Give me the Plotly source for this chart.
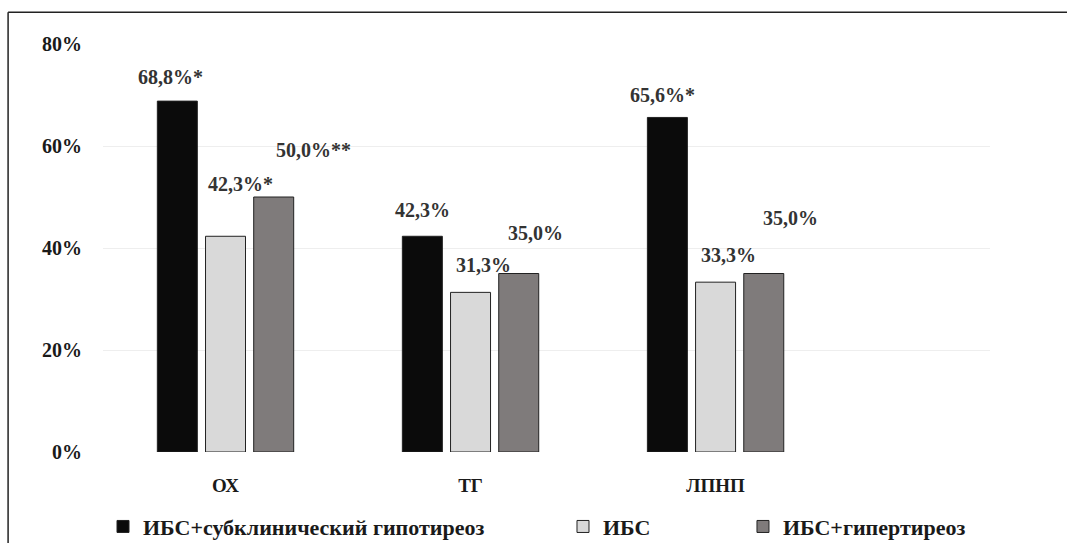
import plotly.graph_objects as go

categories = ["ОХ", "ТГ", "ЛПНП"]
series_names = ["ИБС+субклинический гипотиреоз", "ИБС", "ИБС+гипертиреоз"]
v_hypo = [68.8, 42.3, 65.6]
v_ibs = [42.3, 31.3, 33.3]
v_hyper = [50.0, 35.0, 35.0]
marks_hypo = ["*", "", "*"]
marks_ibs = ["*", "", ""]
marks_hyper = ["**", "", ""]
y_ticks = [0, 20, 40, 60, 80]
y_tick_text = ["0%", "20%", "40%", "60%", "80%"]

series = [v_hypo, v_ibs, v_hyper]
marks = [marks_hypo, marks_ibs, marks_hyper]
colors = ["#0b0b0b", "#d9d9d9", "#7f7b7b"]
legends = ["legend", "legend2", "legend3"]

# label pixel offsets (style)
label_xshift = [[-55, -48, -53], [15, 13, 13], [88, 65, 75]]
label_yshift = [[24, 26, 22], [52, 27, 27], [47, 41, 56]]

FONT = "'Liberation Serif', 'Times New Roman', 'DejaVu Serif', serif"
x_idx = list(range(len(categories)))

fig = go.Figure()
for s in range(3):
    fig.add_trace(go.Bar(
        x=x_idx, y=series[s], name=f"<b>{series_names[s]}</b>",
        marker=dict(color=colors[s], line=dict(color="#222222", width=1)),
        legend=legends[s], hoverinfo="skip", showlegend=True,
    ))

annotations = []
for s in range(3):
    for i, v in enumerate(series[s]):
        txt = f"{v:.1f}".replace(".", ",") + "%" + marks[s][i]
        annotations.append(dict(
            x=x_idx[i], y=v, xref="x", yref="y", text=f"<b>{txt}</b>",
            showarrow=False, xshift=label_xshift[s][i], yshift=label_yshift[s][i],
            font=dict(family=FONT, size=20, color="#333333"),
            xanchor="center", yanchor="middle",
        ))

legend_common = dict(
    orientation="h", yanchor="middle", xanchor="left", y=-0.183,
    font=dict(family=FONT, size=22, color="#1a1a1a"),
    bgcolor="rgba(0,0,0,0)", itemwidth=30, visible=True,
)

fig.update_layout(
    width=1067, height=543,
    margin=dict(l=103, r=77, t=44, b=91, autoexpand=False),
    paper_bgcolor="white", plot_bgcolor="white",
    showlegend=True,
    barmode="group", bargap=0.41, bargroupgap=0.17,
    annotations=annotations,
    legend=dict(x=0.0, **legend_common),
    legend2=dict(x=0.5186, **legend_common),
    legend3=dict(x=0.7215, **legend_common),
    xaxis=dict(
        range=[-0.5, 3.12], tickmode="array", tickvals=x_idx,
        ticktext=[f"<b>{c}</b>" for c in categories],
        showgrid=False, zeroline=False, showline=False, ticks="",
        tickfont=dict(family=FONT, size=19, color="#1a1a1a"),
        ticklabelstandoff=20,
    ),
    yaxis=dict(
        range=[0, 80], tickmode="array", tickvals=y_ticks,
        ticktext=[f"<b>{t}</b>" for t in y_tick_text],
        showgrid=True, gridcolor="#eeeeee", gridwidth=1,
        zeroline=False, showline=False, ticks="",
        tickfont=dict(family=FONT, size=20, color="#1a1a1a"),
        ticklabelstandoff=20,
    ),
    shapes=[
        dict(type="line", xref="paper", yref="paper", x0=-0.107, x1=1.2,
             y0=1.078, y1=1.078, line=dict(color="#222222", width=1.5)),
        dict(type="line", xref="paper", yref="paper", x0=-0.107, x1=-0.107,
             y0=-0.3, y1=1.078, line=dict(color="#222222", width=1.5)),
    ],
)

fig.write_html("out.html")
